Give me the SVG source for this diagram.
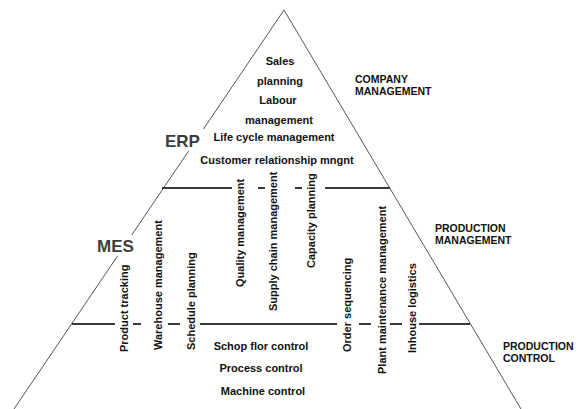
<svg xmlns="http://www.w3.org/2000/svg" width="580" height="409" viewBox="0 0 580 409">
<style>
.t{font-family:"Liberation Sans",Arial,sans-serif;font-weight:bold;font-size:11px;fill:#111}
.c{text-anchor:middle}
.lbl{font-family:"Liberation Sans",Arial,sans-serif;font-weight:bold;font-size:10.5px;fill:#111}
.big{font-family:"Liberation Sans",Arial,sans-serif;font-weight:bold;font-size:17px;fill:#3c3c3c}
.bg{fill:#fff}
.edge{fill:none;stroke:#555;stroke-width:1}
.sep{stroke:#3a3a3a;stroke-width:2}
</style>
<rect width="580" height="409" fill="#fff"/>
<g id="connectors">
<polyline class="edge" points="14,409 284,10 521,409"/>
<g id="upper-line">
<line class="sep" x1="162" y1="188" x2="232" y2="188"/>
<line class="sep" x1="258" y1="188" x2="265" y2="188"/>
<line class="sep" x1="295" y1="188" x2="302" y2="188"/>
<line class="sep" x1="325" y1="188" x2="390" y2="188"/>
</g>
<g id="lower-line">
<line class="sep" x1="72" y1="324" x2="115" y2="324"/>
<line class="sep" x1="133" y1="324" x2="141" y2="324"/>
<line class="sep" x1="168" y1="324" x2="180" y2="324"/>
<line class="sep" x1="200" y1="324" x2="337" y2="324"/>
<line class="sep" x1="359" y1="324" x2="371" y2="324"/>
<line class="sep" x1="390" y1="324" x2="402" y2="324"/>
<line class="sep" x1="419" y1="324" x2="470" y2="324"/>
</g>
</g>
<g id="erp-label"><rect class="bg" x="162" y="129" width="44" height="22"/><text class="big" x="165" y="147">ERP</text></g>
<g id="mes-label"><rect class="bg" x="94" y="235" width="42" height="21"/><text class="big" x="97" y="252">MES</text></g>
<g id="company-items">
<text class="t c" x="280" y="65">Sales</text>
<text class="t c" x="280" y="85">planning</text>
<text class="t c" x="278" y="104">Labour</text>
<text class="t c" x="279" y="124">management</text>
<text class="t c" x="274" y="141">Life cycle management</text>
<text class="t c" x="277" y="164">Customer relationship mngnt</text>
</g>
<g id="production-management-items">
<text class="t" transform="translate(244,287) rotate(-90)">Quality management</text>
<text class="t" transform="translate(277,311) rotate(-90)">Supply chain management</text>
<text class="t" transform="translate(315,268) rotate(-90)">Capacity planning</text>
</g>
<g id="mes-items">
<text class="t" transform="translate(128,352) rotate(-90)">Product tracking</text>
<text class="t" transform="translate(162,350) rotate(-90)">Warehouse management</text>
<text class="t" transform="translate(195,350) rotate(-90)">Schedule planning</text>
<text class="t" transform="translate(351,352) rotate(-90)">Order sequencing</text>
<text class="t" transform="translate(386,374) rotate(-90)">Plant maintenance management</text>
<text class="t" transform="translate(416,353) rotate(-90)">Inhouse logistics</text>
</g>
<g id="control-items">
<text class="t c" x="261" y="350">Schop flor control</text>
<text class="t c" x="261" y="372">Process control</text>
<text class="t c" x="263" y="395">Machine control</text>
</g>
<g id="company-management"><text class="lbl" x="355" y="83">COMPANY</text><text class="lbl" x="355" y="95">MANAGEMENT</text></g>
<g id="production-management"><text class="lbl" x="435" y="232">PRODUCTION</text><text class="lbl" x="435" y="244">MANAGEMENT</text></g>
<g id="production-control"><text class="lbl" x="503" y="350">PRODUCTION</text><text class="lbl" x="503" y="362">CONTROL</text></g>
</svg>
